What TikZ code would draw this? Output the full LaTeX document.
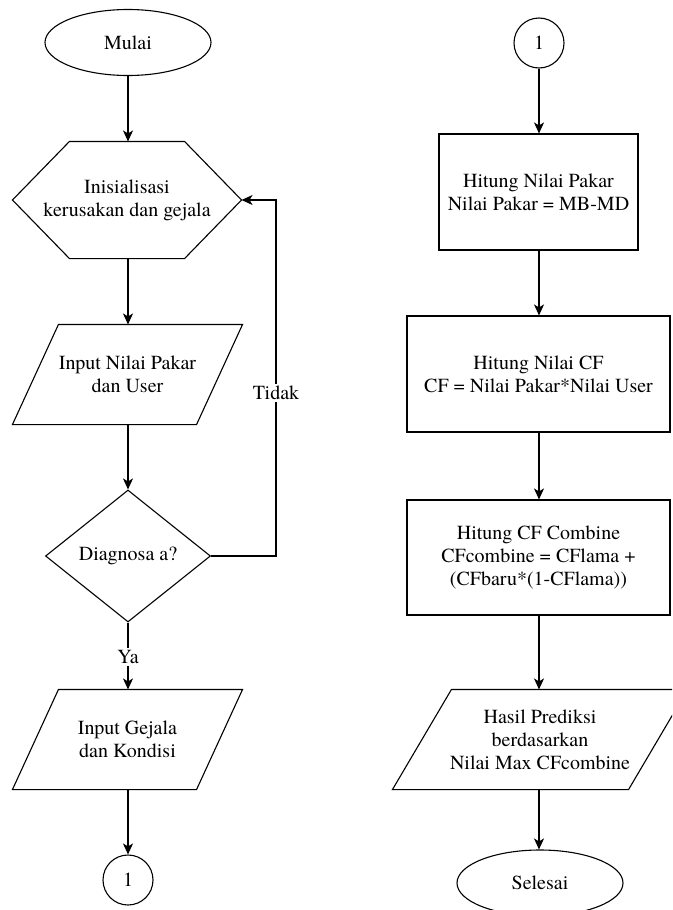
\documentclass[tikz,border=0pt]{standalone}
\usepackage{fontspec}
\setmainfont{texgyretermes}[Extension=.otf, UprightFont=*-regular, BoldFont=*-bold, ItalicFont=*-italic, BoldItalicFont=*-bolditalic]
\usetikzlibrary{shapes.geometric, arrows.meta, calc}

\begin{document}
\begin{tikzpicture}[x=1pt, y=-1pt,
  font=\rmfamily\fontsize{20}{23}\selectfont,
  line width=1.1pt, line join=miter,
  arr/.style={-{Stealth[length=11pt,width=10pt,inset=3pt]}},
  terminal/.style={ellipse, draw, minimum width=166pt, minimum height=66pt, inner sep=0pt},
  process/.style={rectangle, draw, inner sep=0pt, align=center},
  frame/.style={rectangle, inner sep=0pt, align=center},
  decision/.style={diamond, draw, minimum width=165pt, minimum height=132pt, inner sep=0pt},
  connector/.style={circle, draw, minimum size=50pt, inner sep=0pt},
  lbl/.style={fill=white, inner sep=2pt}
]
\useasboundingbox (0,0) rectangle (672,910);
\clip (0,0) rectangle (672,910);

% ---------- left column ----------
\node[terminal] (start) at (128,42.5) {Mulai};

\node[frame, minimum width=228pt, minimum height=116pt] (init) at (127,200)
  {Inisialisasi\\kerusakan dan gejala};
\draw (init.west) -- ($(init.north west)+(57,0)$) -- ($(init.north east)+(-57,0)$)
  -- (init.east) -- ($(init.south east)+(-57,0)$) -- ($(init.south west)+(57,0)$) -- cycle;

\node[frame, minimum width=229pt, minimum height=99pt] (inp1) at (127.5,374.5)
  {Input Nilai Pakar\\dan User};
\draw ($(inp1.north west)+(46,0)$) -- (inp1.north east) -- ($(inp1.south east)+(-46,0)$)
  -- (inp1.south west) -- cycle;

\node[decision] (dec) at (128,556) {Diagnosa a?};

\node[frame, minimum width=229pt, minimum height=99pt] (inp2) at (127.5,739.5)
  {Input Gejala\\dan Kondisi};
\draw ($(inp2.north west)+(46,0)$) -- (inp2.north east) -- ($(inp2.south east)+(-46,0)$)
  -- (inp2.south west) -- cycle;

\node[connector] (c1) at (128,880) {1};

\draw[arr] (start.south) -- (start.south |- init.north);
\draw[arr] (init.south -| start.south) -- (start.south |- inp1.north);
\draw[arr] (inp1.south -| start.south) -- (dec.north);
\draw[arr] (dec.south) -- (dec.south |- inp2.north);
\node[lbl] (ya) at (128,657) {Ya};
\draw[arr] (inp2.south -| start.south) -- (c1.north);

\coordinate (loop) at (276,556);
\draw[arr] (dec.east) -- (loop) |- (init.east);
\node[lbl] (tidak) at (276,393) {Tidak};

% ---------- right column ----------
\node[connector] (c2) at (539,43) {1};

\node[process, minimum width=199pt, minimum height=116pt] (pakar) at (538.5,192)
  {Hitung Nilai Pakar\\Nilai Pakar = MB-MD};

\node[process, minimum width=263pt, minimum height=116pt] (cf) at (538.5,374)
  {Hitung Nilai CF\\CF = Nilai Pakar*Nilai User};

\node[process, minimum width=263pt, minimum height=115pt] (comb) at (538.5,557.5)
  {Hitung CF Combine\\CFcombine = CFlama +\\(CFbaru*(1-CFlama))};

\node[frame, minimum width=294pt, minimum height=99pt] (hasil) at (540,739.5)
  {Hasil Prediksi\\berdasarkan\\Nilai Max CFcombine};
\draw ($(hasil.north west)+(59,0)$) -- (hasil.north east) -- ($(hasil.south east)+(-59,0)$)
  -- (hasil.south west) -- cycle;

\node[terminal] (stop) at (540,883) {Selesai};

\draw[arr] (c2.south) -- (c2.south |- pakar.north);
\draw[arr] (pakar.south -| c2.south) -- (c2.south |- cf.north);
\draw[arr] (cf.south -| c2.south) -- (c2.south |- comb.north);
\draw[arr] (comb.south -| c2.south) -- (c2.south |- hasil.north);
\draw[arr] (hasil.south -| c2.south) -- (c2.south |- stop.north);
\end{tikzpicture}
\end{document}
